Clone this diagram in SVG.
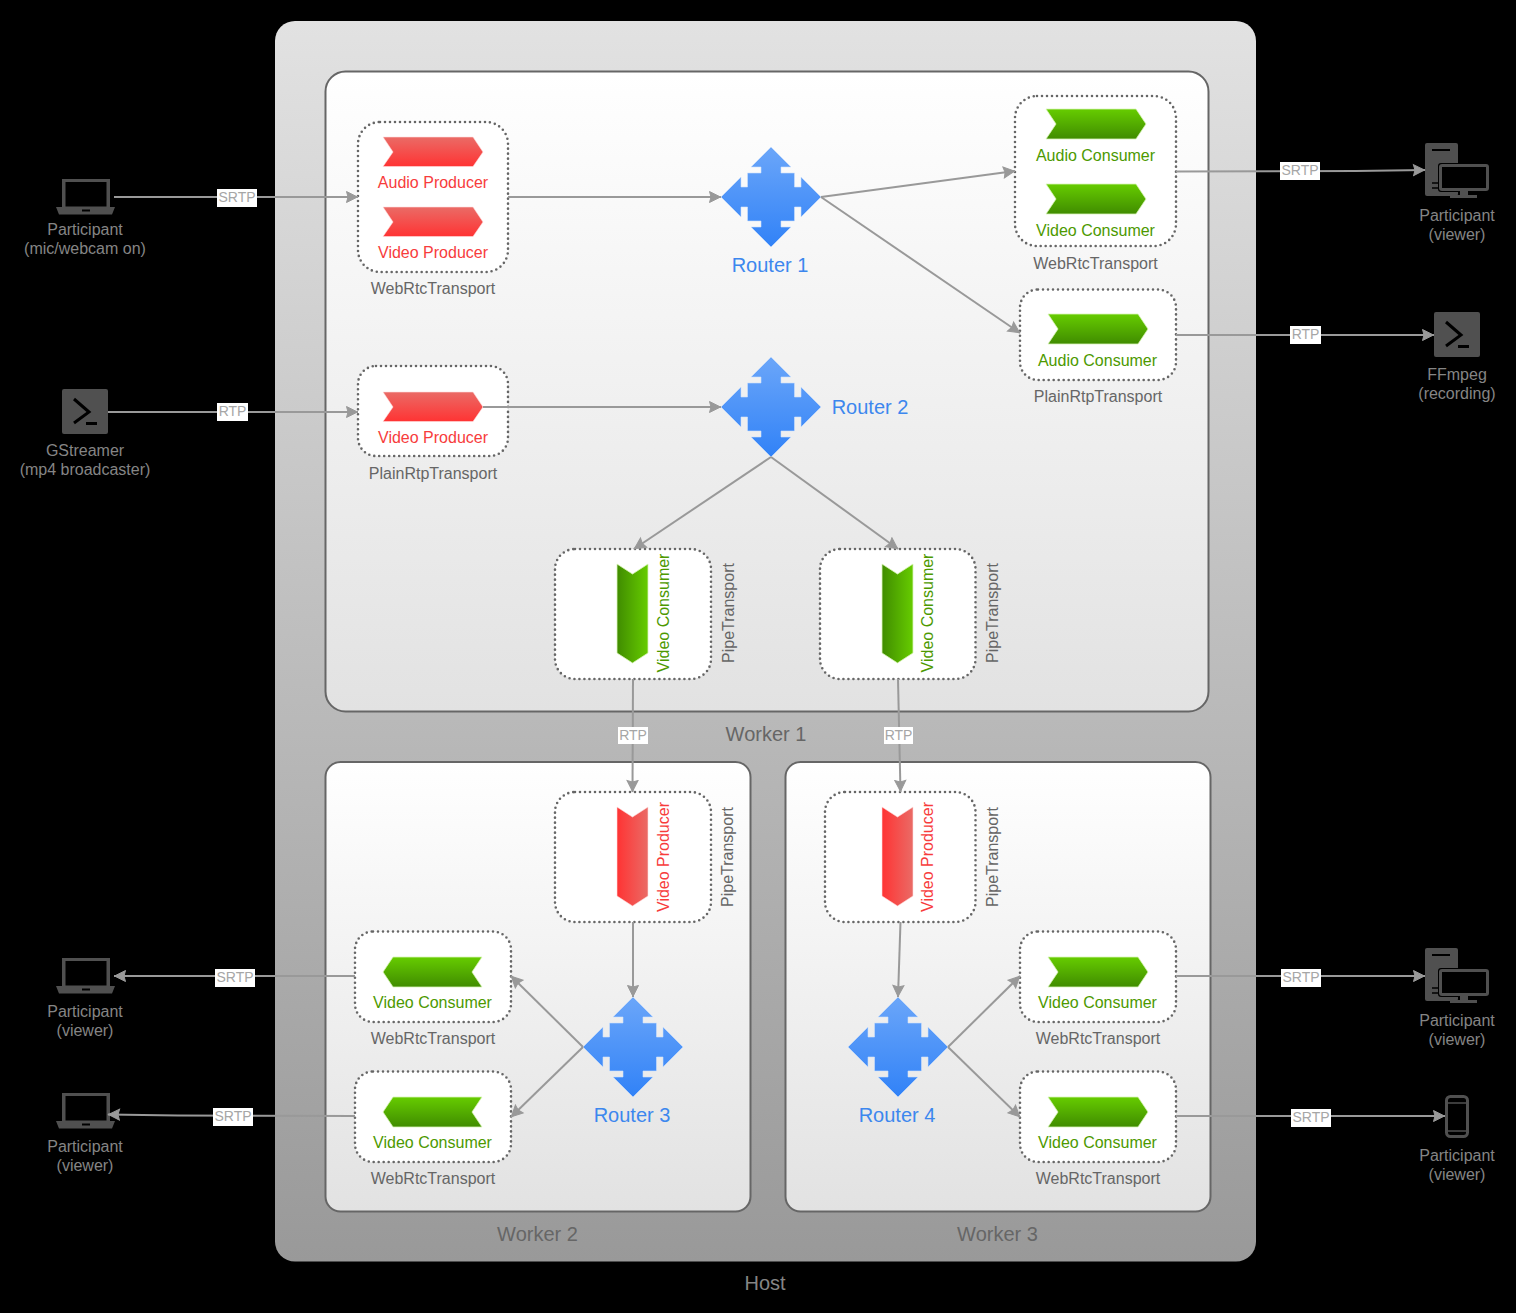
<svg xmlns="http://www.w3.org/2000/svg" xmlns:xlink="http://www.w3.org/1999/xlink" width="1516" height="1313" viewBox="0 0 1516 1313">
<style>
text{font-family:"Liberation Sans",Arial,sans-serif;font-size:16px;text-anchor:middle}
.t{fill:#666}.ext{fill:#858585}.red{fill:#f73c3c}.grn{fill:#4d9900}.rt{fill:#3c87ee;font-size:20px}.wk{fill:#666;font-size:20px}.hst{fill:#858585;font-size:20px}.lb{fill:#a6a6a6;font-size:14px}
.box{fill:#fff;stroke:#666;stroke-width:2.600;stroke-linecap:round;stroke-dasharray:0 5}
.worker{fill:url(#gw);stroke:#666;stroke-width:2}
.c{fill:none;stroke:#999;stroke-width:2;marker-end:url(#ah)}
.lbg{fill:#fff}
.pr{fill:url(#gr);stroke:#fdd;stroke-width:.6}.prv{fill:url(#grv);stroke:#fdd;stroke-width:.6}
.co{fill:url(#gg);stroke:#d9f5b8;stroke-width:.8}.cov{fill:url(#ggv);stroke:#d9f5b8;stroke-width:.8}
.ic{fill:#505050}.k{fill:none;stroke:#000;stroke-width:3}
</style>
<defs>
<linearGradient id="gh" x1="0" y1="0" x2="0" y2="1"><stop offset="0" stop-color="#e2e2e2"/><stop offset="1" stop-color="#999"/></linearGradient>
<linearGradient id="gw" x1="0" y1="0" x2="0" y2="1"><stop offset="0" stop-color="#fff"/><stop offset="1" stop-color="#e2e2e2"/></linearGradient>
<linearGradient id="gr" x1="0" y1="0" x2="0" y2="1"><stop offset="0" stop-color="#ea6b66"/><stop offset="1" stop-color="#ff3333"/></linearGradient>
<linearGradient id="grv" x1="0" y1="0" x2="1" y2="0"><stop offset="0" stop-color="#ff3333"/><stop offset="1" stop-color="#ea6b66"/></linearGradient>
<linearGradient id="gg" x1="0" y1="0" x2="0" y2="1"><stop offset="0" stop-color="#66cc00"/><stop offset="1" stop-color="#408c00"/></linearGradient>
<linearGradient id="ggv" x1="0" y1="0" x2="1" y2="0"><stop offset="0" stop-color="#408c00"/><stop offset="1" stop-color="#66cc00"/></linearGradient>
<linearGradient id="gb" x1="0" y1="0" x2="0" y2="1"><stop offset="0" stop-color="#6ba6f9"/><stop offset="1" stop-color="#3182f7"/></linearGradient>
<marker id="ah" markerUnits="userSpaceOnUse" markerWidth="15" markerHeight="15" refX="12.500" refY="7" orient="auto"><path d="M1 1.500L12 7L1 12.500L2.500 7Z" fill="#999" stroke="#999" stroke-width="1"/></marker>
<g id="router"><path d="M0-50L20-30H10V-24H23.5V-10H30V-20L50 0L30 20V10H23.5V24H10V30H20L0 50L-20 30H-10V24H-23.5V10H-30V20L-50 0L-30-20V-10H-23.5V-24H-10V-30H-20Z" fill="url(#gb)" stroke="#cfe0fb" stroke-width=".6"/></g>
<path id="pa" d="M0 0H90L100 15L90 29.500H0L10 15Z"/>
<path id="ca" d="M0 0H90L100 15L90 30H0L10 15Z"/>
<path id="cl" d="M10 0H99L89 15L99 30H10L0 15Z"/>
<path id="dn" d="M0 0L15.500 10L31 0V89L15.500 99L0 89Z"/>
<g id="laptop"><path class="ic" d="M6 0H54V28H59L56 35.500H3L0 28H6ZM9.500 3V27.500H50.500V3Z" fill-rule="evenodd"/><rect x="26" y="30.500" width="8" height="2" fill="#000"/></g>
<g id="term"><rect class="ic" width="46" height="45" rx="2"/><path class="k" d="M12 10L27 23L12 34M24 34.500H35"/></g>
<g id="desk"><rect class="ic" width="33" height="53" rx="2"/><path d="M7 7H25" stroke="#000" stroke-width="2"/><path d="M7 40H14M7 45H14" stroke="#000" stroke-width="1.500"/><rect x="13" y="20" width="52" height="29" rx="3" fill="#000"/><rect x="15.500" y="22.500" width="47" height="24" rx="1.500" fill="none" stroke="#505050" stroke-width="3"/><path class="ic" d="M35 48H43V52H52V55H25V52H35Z"/></g>
</defs>
<rect width="1516" height="1313" fill="#000"/>
<rect id="host" x="275" y="21" width="981" height="1240.500" rx="20" fill="url(#gh)"/>
<g id="worker1"><rect class="worker" x="325.500" y="71.500" width="883" height="640" rx="20"/></g>
<g id="worker2"><rect class="worker" x="325.500" y="762" width="425" height="449.500" rx="15"/></g>
<g id="worker3"><rect class="worker" x="785.500" y="762" width="425" height="449.500" rx="15"/></g>

<g id="t1"><rect class="box" x="358" y="122" width="150" height="150" rx="22"/><use href="#pa" class="pr" x="383" y="137"/><use href="#pa" class="pr" x="383" y="207"/><text class="red" x="433" y="188">Audio Producer</text><text class="red" x="433" y="258">Video Producer</text><text class="t" x="433" y="294">WebRtcTransport</text></g>
<g id="t2"><rect class="box" x="358" y="366" width="150" height="90" rx="18"/><use href="#pa" class="pr" x="383" y="392"/><text class="red" x="433" y="443">Video Producer</text><text class="t" x="433" y="479">PlainRtpTransport</text></g>
<g id="t3"><rect class="box" x="1015" y="96" width="161" height="150" rx="22"/><use href="#ca" class="co" x="1046" y="109"/><use href="#ca" class="co" x="1046" y="184"/><text class="grn" x="1095.500" y="161">Audio Consumer</text><text class="grn" x="1095.500" y="236">Video Consumer</text><text class="t" x="1095.500" y="269">WebRtcTransport</text></g>
<g id="t4"><rect class="box" x="1020" y="289.500" width="156" height="90.500" rx="18"/><use href="#ca" class="co" x="1048" y="314"/><text class="grn" x="1097.500" y="366">Audio Consumer</text><text class="t" x="1098" y="402">PlainRtpTransport</text></g>
<g id="t5"><rect class="box" x="555" y="549" width="156" height="130" rx="20"/><use href="#dn" class="cov" x="617" y="564"/><text class="grn" transform="translate(669 613) rotate(-90)">Video Consumer</text><text class="t" transform="translate(734 613) rotate(-90)">PipeTransport</text></g>
<g id="t6"><rect class="box" x="820" y="549" width="155.500" height="130" rx="20"/><use href="#dn" class="cov" x="882" y="564"/><text class="grn" transform="translate(933 613) rotate(-90)">Video Consumer</text><text class="t" transform="translate(998 613) rotate(-90)">PipeTransport</text></g>
<g id="t7"><rect class="box" x="555" y="792" width="156" height="130" rx="20"/><use href="#dn" class="prv" x="617" y="807"/><text class="red" transform="translate(669 857) rotate(-90)">Video Producer</text><text class="t" transform="translate(733 857) rotate(-90)">PipeTransport</text></g>
<g id="t8"><rect class="box" x="825" y="792" width="150.500" height="130" rx="20"/><use href="#dn" class="prv" x="882" y="807"/><text class="red" transform="translate(933 857) rotate(-90)">Video Producer</text><text class="t" transform="translate(998 857) rotate(-90)">PipeTransport</text></g>
<g id="t9"><rect class="box" x="355" y="931.500" width="156" height="90.500" rx="18"/><use href="#cl" class="co" x="383" y="957"/><text class="grn" x="432.500" y="1008">Video Consumer</text><text class="t" x="433" y="1044">WebRtcTransport</text></g>
<g id="t10"><rect class="box" x="355" y="1071.500" width="156" height="90.500" rx="18"/><use href="#cl" class="co" x="383" y="1097"/><text class="grn" x="432.500" y="1148">Video Consumer</text><text class="t" x="433" y="1184">WebRtcTransport</text></g>
<g id="t11"><rect class="box" x="1020" y="931.500" width="156" height="90.500" rx="18"/><use href="#ca" class="co" x="1048" y="957"/><text class="grn" x="1097.500" y="1008">Video Consumer</text><text class="t" x="1098" y="1044">WebRtcTransport</text></g>
<g id="t12"><rect class="box" x="1020" y="1071.500" width="156" height="90.500" rx="18"/><use href="#ca" class="co" x="1048" y="1097"/><text class="grn" x="1097.500" y="1148">Video Consumer</text><text class="t" x="1098" y="1184">WebRtcTransport</text></g>

<g id="r1"><use href="#router" x="771" y="197"/><text class="rt" x="770" y="272">Router 1</text></g>
<g id="r2"><use href="#router" x="771" y="407"/><text class="rt" x="870" y="414">Router 2</text></g>
<g id="r3"><use href="#router" x="633" y="1047"/><text class="rt" x="632" y="1122">Router 3</text></g>
<g id="r4"><use href="#router" x="898" y="1047"/><text class="rt" x="897" y="1122">Router 4</text></g>

<g id="p1"><use href="#laptop" x="56" y="179"/><text class="ext" x="85" y="235">Participant</text><text class="ext" x="85" y="254">(mic/webcam on)</text></g>
<g id="p2"><use href="#term" x="62" y="389"/><text class="ext" x="85" y="456">GStreamer</text><text class="ext" x="85" y="475">(mp4 broadcaster)</text></g>
<g id="p3"><use href="#desk" x="1425" y="143"/><text class="ext" x="1457" y="221">Participant</text><text class="ext" x="1457" y="240">(viewer)</text></g>
<g id="p4"><use href="#term" x="1434" y="312"/><text class="ext" x="1457" y="380">FFmpeg</text><text class="ext" x="1457" y="399">(recording)</text></g>
<g id="p5"><use href="#laptop" x="56" y="958"/><text class="ext" x="85" y="1017">Participant</text><text class="ext" x="85" y="1036">(viewer)</text></g>
<g id="p6"><use href="#laptop" x="56" y="1093"/><text class="ext" x="85" y="1152">Participant</text><text class="ext" x="85" y="1171">(viewer)</text></g>
<g id="p7"><use href="#desk" x="1425" y="948"/><text class="ext" x="1457" y="1026">Participant</text><text class="ext" x="1457" y="1045">(viewer)</text></g>
<g id="p8"><rect x="1446.500" y="1096.500" width="21" height="40" rx="4" fill="#000" stroke="#505050" stroke-width="3"/><path d="M1447 1103H1467M1447 1131H1467" stroke="#505050" stroke-width="1.500"/><text class="ext" x="1457" y="1161">Participant</text><text class="ext" x="1457" y="1180">(viewer)</text></g>

<text id="w1l" class="wk" x="766" y="741">Worker 1</text>
<text id="w2l" class="wk" x="537.500" y="1241">Worker 2</text>
<text id="w3l" class="wk" x="997.500" y="1241">Worker 3</text>
<text id="hl" class="hst" x="765" y="1290">Host</text>

<g id="connectors">
<path class="c" d="M114 197H358"/>
<path class="c" d="M508 197H721"/>
<path class="c" d="M821 197L1015 171"/>
<path class="c" d="M821 197L1020 333"/>
<path class="c" d="M1176 171.500L1356 171L1425 170"/>
<path class="c" d="M1176 335H1434"/>
<path class="c" d="M108 412H358"/>
<path class="c" d="M483 407H721"/>
<path class="c" d="M771 457L634 549"/>
<path class="c" d="M771 457L898 549"/>
<path class="c" d="M633 679L632.500 792"/>
<path class="c" d="M898 679L900.500 792"/>
<path class="c" d="M633 922V997"/>
<path class="c" d="M900.500 922L898 997"/>
<path class="c" d="M583 1047L511 976"/>
<path class="c" d="M583 1047L511 1117"/>
<path class="c" d="M948 1047L1020 976"/>
<path class="c" d="M948 1047L1020 1117"/>
<path class="c" d="M355 976H114"/>
<path class="c" d="M355 1116L178 1115.500L108 1114.500"/>
<path class="c" d="M1176 976H1425"/>
<path class="c" d="M1176 1116H1445"/>
<g id="labels">
<rect class="lbg" x="217" y="189" width="40" height="18"/><text class="lb" x="237" y="202">SRTP</text>
<rect class="lbg" x="217" y="403" width="31" height="18"/><text class="lb" x="232.500" y="416">RTP</text>
<rect class="lbg" x="1280" y="162" width="40" height="18"/><text class="lb" x="1300" y="175">SRTP</text>
<rect class="lbg" x="1290" y="326" width="31" height="18"/><text class="lb" x="1305.500" y="339">RTP</text>
<rect class="lbg" x="618" y="727" width="30" height="17"/><text class="lb" x="633" y="740">RTP</text>
<rect class="lbg" x="884" y="727" width="29" height="17"/><text class="lb" x="898.500" y="740">RTP</text>
<rect class="lbg" x="215" y="969" width="40" height="18"/><text class="lb" x="235" y="982">SRTP</text>
<rect class="lbg" x="213" y="1108" width="40" height="18"/><text class="lb" x="233" y="1121">SRTP</text>
<rect class="lbg" x="1281" y="969" width="40" height="18"/><text class="lb" x="1301" y="982">SRTP</text>
<rect class="lbg" x="1291" y="1109" width="40" height="18"/><text class="lb" x="1311" y="1122">SRTP</text>
</g>
</g>
</svg>
